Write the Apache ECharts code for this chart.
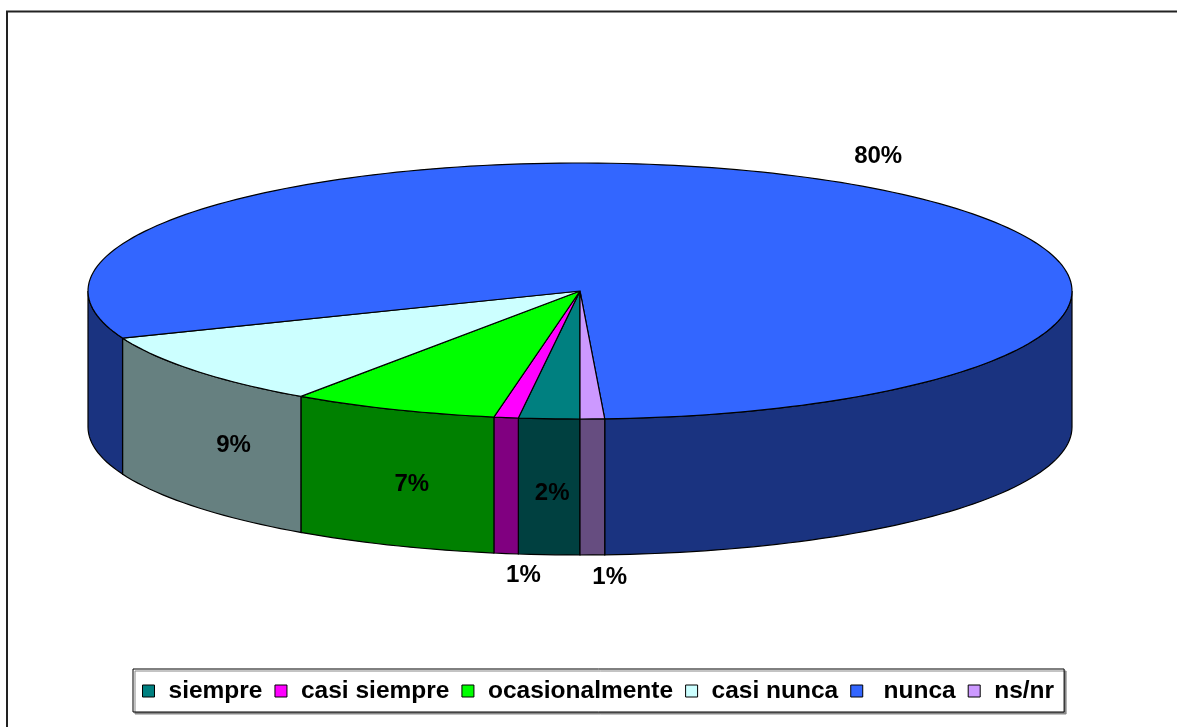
<!DOCTYPE html>
<html>
<head>
<meta charset="utf-8">
<script src="https://cdn.jsdelivr.net/npm/echarts@6/dist/echarts.min.js"></script>
<style>
  html, body { margin: 0; padding: 0; background: #fff; }
  #chart { width: 1177px; height: 727px; }
</style>
</head>
<body>
<div id="chart"></div>
<script>
// data (percent of answers)
var categories = ["siempre", "casi siempre", "ocasionalmente", "casi nunca", " nunca", "ns/nr"];
var percents = [2.0, 0.8, 6.8, 9.4, 80.2, 0.8];

var topColors = ["#008080", "#FF00FF", "#00FF00", "#CCFFFF", "#3366FF", "#CC99FF"];
var sideColors = ["#004040", "#800080", "#008000", "#668080", "#1A3380", "#664D80"];

var FONT = "'Liberation Sans', Arial, sans-serif";

// 3d pie geometry
var cx = 580, cy = 291, rx = 492, ry = 128, depth = 136;
var startAngle = 180; // degrees, clockwise from 12 o'clock

var total = percents.reduce(function (a, b) { return a + b; }, 0);

function pt(deg, dy) {
  var r = deg * Math.PI / 180;
  return [cx + rx * Math.sin(r), cy - ry * Math.cos(r) + (dy || 0)];
}

function arc(a1, a2, dy) {
  var pts = [];
  var n = Math.max(2, Math.ceil(Math.abs(a2 - a1) / 1.5));
  for (var k = 0; k <= n; k++) {
    pts.push(pt(a1 + (a2 - a1) * k / n, dy));
  }
  return pts;
}

function makeRender(idx) {
  return function (params, api) {
    var v = api.value(0);
    var cum = 0;
    for (var j = 0; j < idx; j++) cum += percents[j];
    var a1 = startAngle + cum / total * 360;
    var a2 = a1 + v / total * 360;
    var children = [];

    // visible (front) part of the outer wall: angles 90..270 (mod 360)
    [[90, 270], [450, 630]].forEach(function (win) {
      var s = Math.max(a1, win[0]), e = Math.min(a2, win[1]);
      if (e > s) {
        var upper = arc(s, e, 0);
        var lower = arc(s, e, depth).reverse();
        children.push({
          type: "polygon",
          shape: { points: upper.concat(lower) },
          style: { fill: sideColors[idx], stroke: "#000", lineWidth: 1.2 }
        });
      }
    });

    // top face
    children.push({
      type: "polygon",
      shape: { points: [[cx, cy]].concat(arc(a1, a2, 0)) },
      style: { fill: topColors[idx], stroke: "#000", lineWidth: 1.2 }
    });

    // label
    var mid = ((a1 + a2) / 2) % 360;
    var r = mid * Math.PI / 180;
    var sn = Math.sin(r), cs = Math.cos(r);
    var front = mid > 90 && mid < 270;
    var lx, ly, align = "center";
    if (!front) {
      lx = cx + 1.12 * rx * sn;
      ly = cy - 1.25 * ry * cs;
    } else if (v >= 1.5) {
      lx = cx + 0.9 * rx * sn;
      ly = cy - ry * cs + depth * 0.55;
    } else {
      lx = cx + rx * sn;
      ly = cy - ry * cs + depth + 22;
      align = "left";
    }
    children.push({
      type: "text",
      z2: 10,
      style: {
        x: lx, y: ly,
        text: Math.round(v / total * 100) + "%",
        fill: "#000",
        font: "bold 24px " + FONT,
        align: align,
        verticalAlign: "middle"
      }
    });

    return { type: "group", children: children };
  };
}

var series = categories.map(function (name, i) {
  return {
    type: "custom",
    name: name,
    coordinateSystem: "none",
    itemStyle: { color: topColors[i] },
    data: [[percents[i]]],
    renderItem: makeRender(i),
    animation: false
  };
});

var chart = echarts.init(document.getElementById("chart"));
chart.setOption({
  backgroundColor: "#fff",
  animation: false,
  graphic: [{
    type: "rect",
    shape: { x: 7, y: 11.5, width: 1200, height: 800 },
    style: { fill: "none", stroke: "#222", lineWidth: 2 },
    silent: true
  }],
  legend: {
    data: categories,
    left: 133,
    top: 669,
    icon: "rect",
    itemWidth: 12,
    itemHeight: 12,
    itemGap: 12,
    padding: [8, 10, 7, 9],
    backgroundColor: "#fff",
    borderColor: "#000",
    borderWidth: 1,
    shadowColor: "#888",
    shadowOffsetX: 2,
    shadowOffsetY: 2,
    itemStyle: { borderColor: "#000", borderWidth: 1 },
    textStyle: {
      fontFamily: FONT,
      fontWeight: "bold",
      fontSize: 24.5,
      color: "#000",
      lineHeight: 28,
      padding: [0, 0, 0, 9]
    },
    selectedMode: false
  },
  series: series
});
</script>
</body>
</html>
